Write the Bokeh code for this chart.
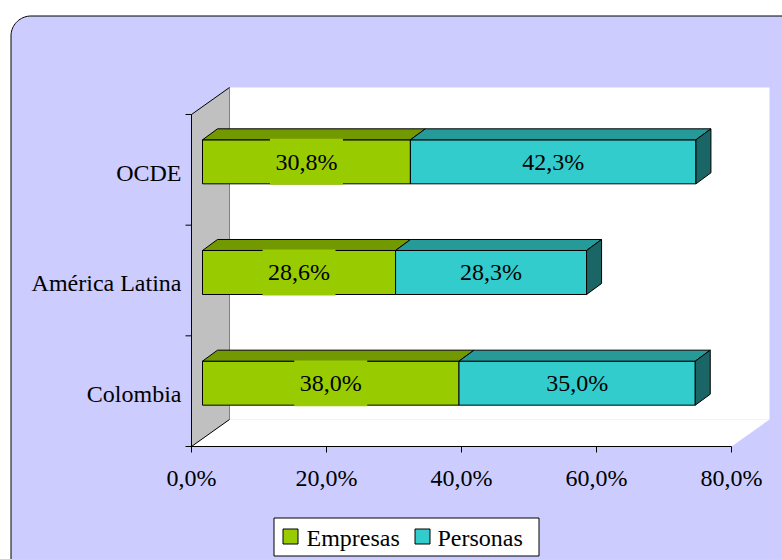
import numpy as np
from bokeh.plotting import figure
from bokeh.models import Range1d
from bokeh.embed import file_html
from bokeh.resources import INLINE
from bokeh.core.properties import value

# ---------------- data ----------------
categories = ["Colombia", "América Latina", "OCDE"]
empresas = [38.0, 28.6, 30.8]
personas = [35.0, 28.3, 42.3]
series_names = ["Empresas", "Personas"]
x_ticks = [0, 20, 40, 60, 80]
x_tick_labels = ["0,0%", "20,0%", "40,0%", "60,0%", "80,0%"]

# ---------------- styles ----------------
front_colors = ["#99CC00", "#33CCCC"]
top_colors = ["#739900", "#269999"]
side_colors = ["#739900", "#1A6666"]
label_box_colors = ["#99CC00", None]
FONT = value("Liberation Serif")
FS = "24px"

# pixel layout (canvas coordinates)
W, H = 782, 559
X0, SX = 191.0, 6.75      # x of 0 %, pixels per %
Y0, SY = 446.0, 110.67    # y of category origin, pixels per category


def dx(px):
    return px / SX


def dy(px):
    return px / SY


def ax(cx):
    return (cx - X0) / SX


def ay(cy):
    return (Y0 - cy) / SY


p = figure(width=W, height=H, output_backend="svg", toolbar_location=None,
           x_range=Range1d(ax(0), ax(W)),
           y_range=Range1d(ay(H), ay(0)),
           x_axis_type=None, y_axis_type=None, min_border=0,
           outline_line_color=None, background_fill_color="white",
           border_fill_color="white")
p.grid.visible = False

# ---------- chart area background (rounded top-left corner) ----------
r = 20
bx, by = 10.5, 15.5
ang = np.linspace(np.pi, np.pi / 2, 20)
arc_x = bx + r + r * np.cos(ang)
arc_y = by + r - r * np.sin(ang)
px_x = [bx, bx, 900, 900] + list(arc_x[::-1])
px_y = [by + r, 700, 700, by] + list(arc_y[::-1])
p.patch([ax(v) for v in px_x], [ay(v) for v in px_y], fill_color="#CCCCFF",
        line_color="black", line_width=1)

# ---------- 3D walls ----------
ncat = len(categories)
xmax = x_ticks[-1]
DX, DY = dx(38), dy(27)          # full depth of the 3D box
p.quad(left=DX, right=xmax + DX, bottom=DY, top=ncat + DY,
       fill_color="white", line_color=None)
p.patch([0, xmax, xmax + DX, DX], [0, 0, DY, DY], fill_color="white", line_color=None)
p.patch([0, DX, DX, 0], [0, DY, ncat + DY, ncat], fill_color="#C0C0C0", line_color=None)
p.line([DX, DX], [DY, ncat + DY], line_color="#808080", line_width=1)
p.line([0, DX], [ncat, ncat + DY], line_color="black", line_width=1)
p.line([0, DX], [0, DY], line_color="black", line_width=1)

# ---------- axes ----------
p.line([0, xmax], [0, 0], line_color="black", line_width=1)
p.segment(x0=x_ticks, y0=[0] * len(x_ticks), x1=x_ticks, y1=[-dy(6)] * len(x_ticks),
          line_color="black", line_width=1)
p.line([0, 0], [0, ncat], line_color="black", line_width=1)
ybounds = list(range(ncat + 1))
p.segment(x0=[-dx(6)] * len(ybounds), y0=ybounds, x1=[0] * len(ybounds), y1=ybounds,
          line_color="black", line_width=1)

p.text(x=x_ticks, y=[-dy(31)] * len(x_ticks), text=x_tick_labels, text_font=FONT,
       text_font_size=FS, text_align="center", text_baseline="middle", text_color="black")
p.text(x=[-dx(10)] * ncat, y=[i + 0.5 - dy(3) for i in range(ncat)], text=categories,
       text_font=FONT, text_font_size=FS, text_align="right", text_baseline="middle",
       text_color="black")

# ---------- bars ----------
OX, OY = dx(11), dy(8)     # front face offset into depth
BX, BY = dx(15), dy(11)    # bar depth
HB = dy(44)                # bar height
series = [empresas, personas]
starts = [0.0] * ncat
for s, vals in enumerate(series):
    left = [starts[i] + OX for i in range(ncat)]
    right = [starts[i] + vals[i] + OX for i in range(ncat)]
    yc = [i + 0.5 + OY for i in range(ncat)]
    bot = [c - HB / 2 for c in yc]
    top = [c + HB / 2 for c in yc]
    p.quad(left=left, right=right, bottom=bot, top=top,
           fill_color=front_colors[s], line_color="black", line_width=1)
    tops_x = [[left[i], right[i], right[i] + BX, left[i] + BX] for i in range(ncat)]
    tops_y = [[top[i], top[i], top[i] + BY, top[i] + BY] for i in range(ncat)]
    p.patches(tops_x, tops_y, fill_color=top_colors[s], line_color="black", line_width=1)
    if s == len(series) - 1:
        sx = [[right[i], right[i] + BX, right[i] + BX, right[i]] for i in range(ncat)]
        sy = [[bot[i], bot[i] + BY, top[i] + BY, top[i]] for i in range(ncat)]
        p.patches(sx, sy, fill_color=side_colors[s], line_color="black", line_width=1)
    cx = [(l + rr) / 2 for l, rr in zip(left, right)]
    labels = [f"{v:.1f}".replace(".", ",") + "%" for v in vals]
    if label_box_colors[s]:
        p.rect(x=cx, y=yc, width=73, height=46, width_units="screen",
               height_units="screen", fill_color=label_box_colors[s], line_color=None)
    p.text(x=cx, y=yc, text=labels, text_font=FONT, text_font_size=FS,
           text_align="center", text_baseline="middle", text_color="black")
    starts = [starts[i] + vals[i] for i in range(ncat)]

# ---------- legend (drawn) ----------
p.quad(left=ax(273.5), right=ax(538.5), top=ay(517.5), bottom=ay(555.5),
       fill_color="white", line_color="black", line_width=1)
sw_left = [282.5, 414.5]
txt_left = [306, 437]
p.quad(left=[ax(v) for v in sw_left], right=[ax(v + 15) for v in sw_left],
       top=[ay(528.5)] * 2, bottom=[ay(543.5)] * 2,
       fill_color=front_colors, line_color="black", line_width=1)
p.text(x=[ax(v) for v in txt_left], y=[ay(537)] * 2, text=series_names, text_font=FONT,
       text_font_size=FS, text_align="left", text_baseline="middle", text_color="black")

open("out.html", "w").write(file_html(p, INLINE))
